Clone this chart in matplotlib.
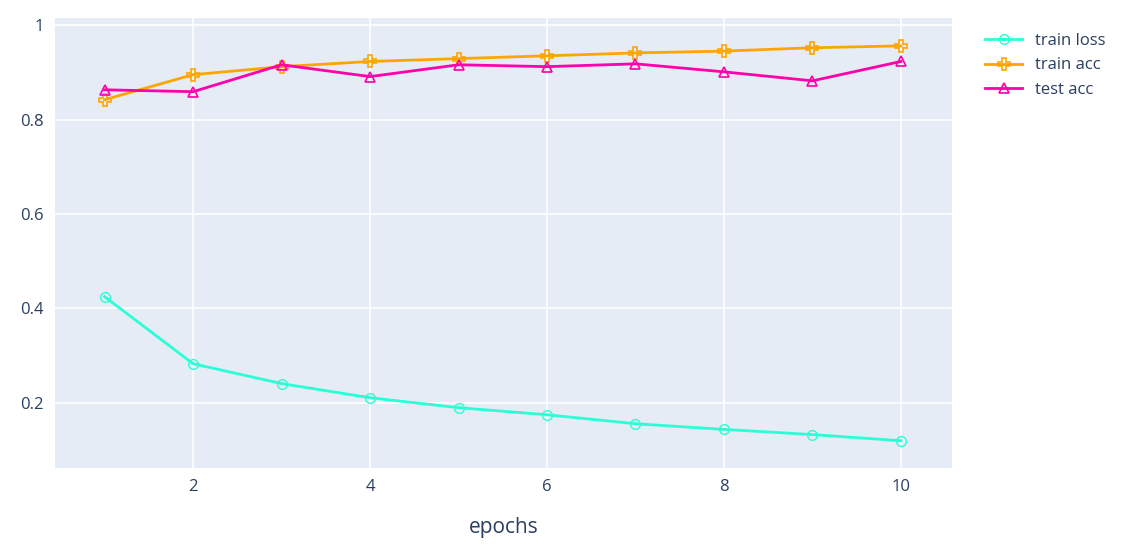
import matplotlib.pyplot as plt

epochs = [1, 2, 3, 4, 5, 6, 7, 8, 9, 10]
train_loss = [0.425, 0.283, 0.241, 0.211, 0.190, 0.175, 0.156, 0.144, 0.133, 0.120]
train_acc = [0.842, 0.895, 0.912, 0.923, 0.929, 0.935, 0.941, 0.945, 0.952, 0.956]
test_acc = [0.863, 0.859, 0.916, 0.891, 0.916, 0.912, 0.918, 0.901, 0.882, 0.923]

plt.rcParams['font.family'] = ['Open Sans', 'DejaVu Sans']
textColor = '#2a3f5f'

figure = plt.figure(figsize=(11.3, 5.54), dpi=100)
axes = figure.add_axes([0.0487, 0.155, 0.794, 0.8125])
axes.set_facecolor('#E5ECF6')
for spine in axes.spines.values():
    spine.set_visible(False)
axes.grid(color='white', linewidth=1.2)
axes.set_axisbelow(True)

axes.plot(epochs, train_loss, color='#2affd5', linewidth=2, marker='o', markersize=7,
          markerfacecolor='none', markeredgewidth=1, label='train loss')
axes.plot(epochs, train_acc, color='#ffa500', linewidth=2, marker='P', markersize=9,
          markerfacecolor='none', markeredgewidth=1.2, label='train acc')
axes.plot(epochs, test_acc, color='#ff00aa', linewidth=2, marker='^', markersize=7,
          markerfacecolor='none', markeredgewidth=1.2, label='test acc')

axes.set_xlim(0.44, 10.58)
axes.set_ylim(0.062, 1.015)
axes.set_xticks([2, 4, 6, 8, 10])
axes.set_yticks([0.2, 0.4, 0.6, 0.8, 1.0])
axes.set_yticklabels(['0.2', '0.4', '0.6', '0.8', '1'])
axes.tick_params(length=0, labelsize=12, labelcolor=textColor, pad=8)
axes.set_xlabel('epochs', fontsize=15, color=textColor, labelpad=16)

axes.legend(loc='upper left', bbox_to_anchor=(1.02, 1.0), frameon=False,
            fontsize=12, labelcolor=textColor, handlelength=2.2)

figure.savefig('out.png')
plt.close(figure)
